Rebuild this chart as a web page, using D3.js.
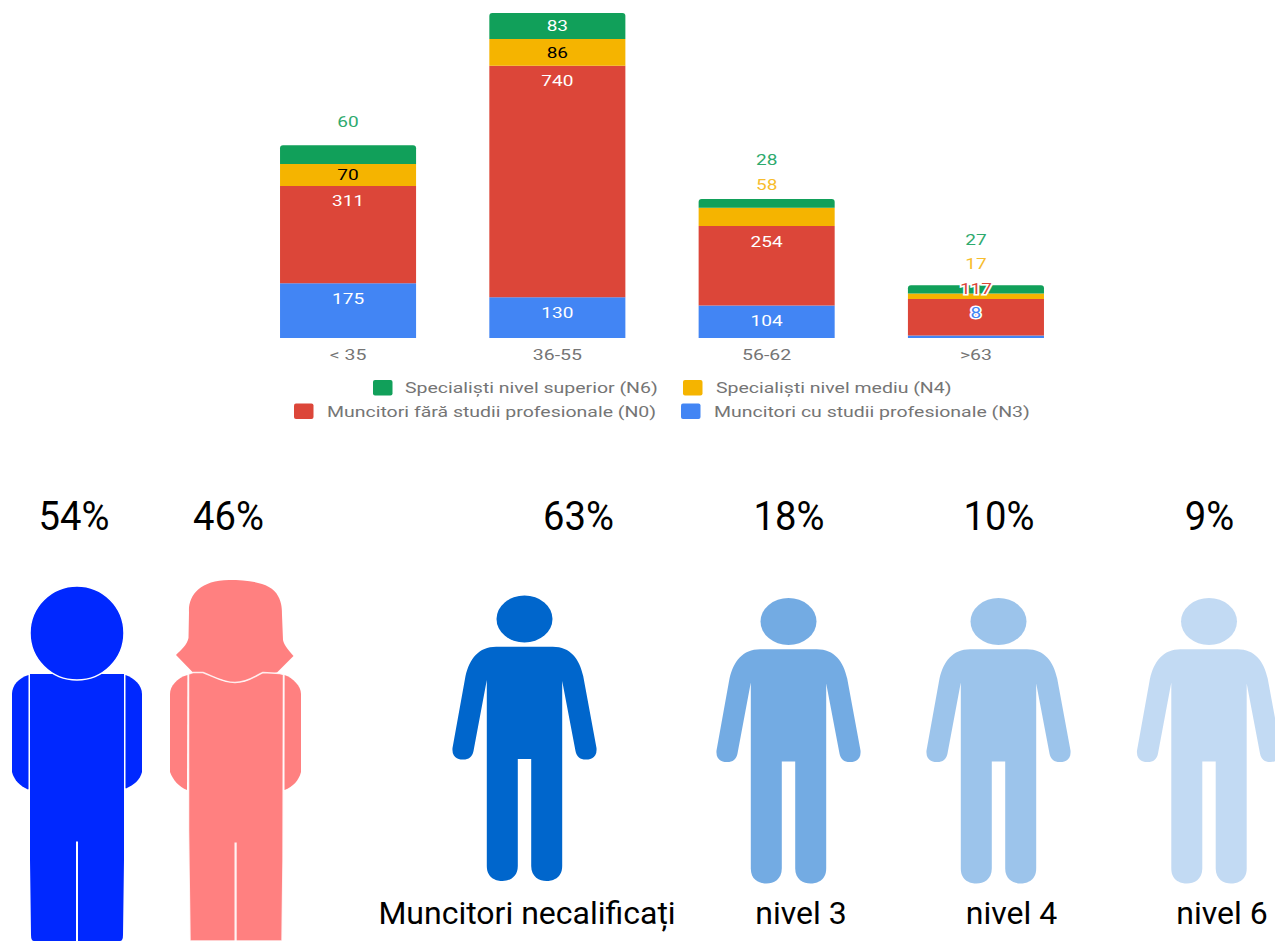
<!DOCTYPE html>
<html><head><meta charset="utf-8">
<script src="https://cdnjs.cloudflare.com/ajax/libs/d3/7.8.5/d3.min.js"></script>
<style>html,body{margin:0;padding:0;background:#fff;overflow:hidden}svg{display:block}text{font-family:Roboto,sans-serif}</style>
</head><body><svg id="c" width="1275" height="941"></svg>
<script>
// ---------- data ----------
const ageGroups = ["< 35", "36-55", "56-62", ">63"];
const seriesNames = ["Muncitori cu studii profesionale (N3)", "Muncitori fără studii profesionale (N0)", "Specialiști nivel mediu (N4)", "Specialiști nivel superior (N6)"];
const seriesColors = ["#4285f4", "#dc4639", "#f5b400", "#11a05a"];
const n3Values = [175, 130, 104, 8];
const n0Values = [311, 740, 254, 117];
const n4Values = [70, 86, 58, 17];
const n6Values = [60, 83, 28, 27];
const genderShares = ["54%", "46%"];
const levelShares = ["63%", "18%", "10%", "9%"];
const levelNames = ["Muncitori necalificați", "nivel 3", "nivel 4", "nivel 6"];
const levelOpacity = [1, 0.55, 0.39, 0.24];

// ---------- chart ----------
const svg = d3.select("#c");
const STRETCH = 1.3;
const x = d3.scaleBand().domain(ageGroups).range([243.4, 1080.6]).paddingInner(0.35).paddingOuter(0.175);
const y = d3.scaleLinear().domain([0, 1039]).range([338, 13]);
const rows = ageGroups.map((g, i) => ({ g, v0: n3Values[i], v1: n0Values[i], v2: n4Values[i], v3: n6Values[i] }));
const stacked = d3.stack().keys(["v0", "v1", "v2", "v3"])(rows);

stacked.forEach((layer, si) => {
  svg.append("g").selectAll("path").data(layer).join("path")
    .attr("fill", seriesColors[si])
    .attr("d", d => {
      const X = x(d.data.g), W = x.bandwidth(), T = y(d[1]), B = y(d[0]), r = si === 3 ? 3 : 0;
      const p = d3.path();
      p.moveTo(X, B); p.lineTo(X, T + r);
      if (r) p.quadraticCurveTo(X, T, X + r, T);
      p.lineTo(X + W - r, T);
      if (r) p.quadraticCurveTo(X + W, T, X + W, T + r);
      p.lineTo(X + W, B); p.closePath();
      return p.toString();
    });
});

// value labels: offset from the top of their own segment, per series and group
const labelOffsets = [
  [15, 15, 11, -24],
  [15, 15, 14, 13],
  [15, 16, -23, -39],
  [-23, -10, -30, -45]
];
const labelFills = [
  ["#fff", "#fff", "#000", "#2eaa6e"],
  ["#fff", "#fff", "#000", "#fff"],
  ["#fff", "#fff", "#f7bd2e", "#2eaa6e"],
  ["#4285f4", "#dc4639", "#f7bd2e", "#2eaa6e"]
];
const labels = [];
stacked.forEach((layer, si) => layer.forEach((d, gi) => {
  labels.push({ value: d[1] - d[0], gx: x(d.data.g) + x.bandwidth() / 2, top: y(d[1]), dy: labelOffsets[gi][si], fill: labelFills[gi][si], halo: gi === 3 && si < 2 });
}));
svg.append("g").selectAll("text").data(labels).join("text")
  .attr("text-anchor", "middle").attr("dominant-baseline", "central")
  .attr("font-size", 15).attr("fill", d => d.fill)
  .attr("stroke", d => d.halo ? "#fff" : "none").attr("stroke-width", d => d.halo ? 3 : 0)
  .attr("paint-order", "stroke").text(d => d.value)
  .attr("transform", d => `translate(${d.gx},${d.top + d.dy}) scale(1.27,1)`);

// category axis
const ax = svg.append("g").attr("transform", "translate(0,338)").call(d3.axisBottom(x).tickSize(0));
ax.select(".domain").remove();
ax.selectAll("text").attr("y", 0).attr("dy", 0).attr("dominant-baseline", "central").attr("font-size", 15)
  .attr("font-family", "Roboto").attr("fill", "#757575")
  .attr("transform", `translate(0,17) scale(${STRETCH},1)`);

// legend (drawn in the reference's order)
const legendItems = [
  { s: 3, sx: 373, tx: 405, ly: 388 }, { s: 2, sx: 683, tx: 716, ly: 388 },
  { s: 1, sx: 294, tx: 327, ly: 411.5 }, { s: 0, sx: 681, tx: 714, ly: 411.5 }
];
const leg = svg.append("g").selectAll("g").data(legendItems).join("g");
leg.append("rect").attr("x", d => d.sx).attr("y", d => d.ly - 8).attr("width", 19.5).attr("height", 15.5).attr("rx", 2)
  .attr("fill", d => seriesColors[d.s]);
leg.append("text").attr("dominant-baseline", "central").attr("font-size", 15).attr("fill", "#757575")
  .attr("transform", d => `translate(${d.tx},${d.ly}) scale(${STRETCH},1)`).text(d => seriesNames[d.s]);

// ---------- pictographs ----------
const person = "M-28.3,-0.3 L28.3,-0.3 C46,-0.3 55,12 58.7,29 L72,101 C73,112 64,112.5 61,112.5 C56,112.5 52,110 51,104 L37.7,34 L37.7,219 C37.7,232 27,234 22,234 C15,234 6.7,230 6.7,219 L6.7,112 L-6.7,112 L-6.7,219 C-6.7,230 -15,234 -22,234 C-27,234 -37.7,232 -37.7,219 L-37.7,33 L-51,104 C-52,110 -56,112.5 -61,112.5 C-64,112.5 -73,112 -72,101 L-59,29 C-55,12 -46,-0.3 -28.3,-0.3 Z";
const levelCenters = [524.5, 788.5, 998.5, 1209];
const levelShoulders = [647, 649.5, 649.5, 649.5];
const lvl = svg.append("g").selectAll("g").data(levelNames).join("g")
  .attr("transform", (d, i) => `translate(${levelCenters[i]},${levelShoulders[i]})`)
  .attr("fill", "#0066cc").attr("fill-opacity", (d, i) => levelOpacity[i]);
lvl.append("ellipse").attr("cx", 0).attr("cy", -28).attr("rx", 28).attr("ry", 23.5);
lvl.append("path").attr("d", person);

const shareText = (values, xs) => svg.append("g").selectAll("text").data(values).join("text")
  .attr("transform", (d, i) => `translate(${xs[i]},530) scale(0.955,1)`).attr("text-anchor", "middle")
  .attr("font-size", 40).attr("fill", "#000").text(d => d);
shareText(genderShares, [74, 228.5]);
shareText(levelShares, [578.5, 789, 999, 1209.5]);

const nameX = [527, 801, 1011.5, 1222];
svg.append("g").selectAll("text").data(levelNames).join("text")
  .attr("x", (d, i) => nameX[i]).attr("y", 924).attr("text-anchor", "middle").attr("font-size", 32).attr("fill", "#000").text(d => d);

// man
const man = svg.append("g");
man.append("path").attr("fill", "#0028ff").attr("d",
  "M30,674 L124,674 L124,860 L123,935 Q123,941 120,941 L34,941 Q31,941 31,935 L30,860 Z");
man.append("circle").attr("cx", 77).attr("cy", 633).attr("r", 47).attr("fill", "#0028ff").attr("stroke", "#fff").attr("stroke-width", 1.5);
man.append("path").attr("fill", "#0028ff").attr("d", "M28.5,675 C19,678 12,685 12,694 L12,772 C14,780 20,786 28,789.5 L28.5,789 Z");
man.append("path").attr("fill", "#0028ff").attr("d", "M125.5,675 C134,678 142,685 142,694 L142,772 C140,780 134,785 126,788.5 L125.5,788 Z");
man.append("rect").attr("x", 76).attr("y", 841.5).attr("width", 2).attr("height", 100).attr("fill", "#fff");

// woman
const woman = svg.append("g").attr("fill", "#ff8080");
woman.append("path").attr("d",
  "M229,580 C250,580 272,583 278,596 C282,603 282,610 282,615 L283,640 C284,645 289,651 293.5,656 L277,672.5 L260,676 L235,684 L210,676 L193,672.5 L176,655 C181,650 187,645 188.5,638 L189,612 C188,596 200,580 229,580 Z");
woman.append("path").attr("d", "M187.5,675 C177,678 170,686 170,694 L170,772 C173,780 179,787 187,790 Z");
woman.append("path").attr("d", "M284.5,675 C293,678 301,686 301,694 L301,772 C299,780 293,787 284.5,790 Z");
woman.append("path").attr("stroke", "#fff").attr("stroke-opacity", 0.85).attr("stroke-width", 1.5).attr("d",
  "M188.5,674 L193,672.5 L203,672.5 C213,676 222,682.5 235,682.5 C248,682.5 255,676 263,672.5 L280,673.5 L283.5,674.5 L283,860 L282,941 L190,941 L188.5,830 Z");
woman.append("rect").attr("x", 234.5).attr("y", 842.5).attr("width", 2.2).attr("height", 100).attr("fill", "#fff").attr("fill-opacity", 0.9);
</script></body></html>
